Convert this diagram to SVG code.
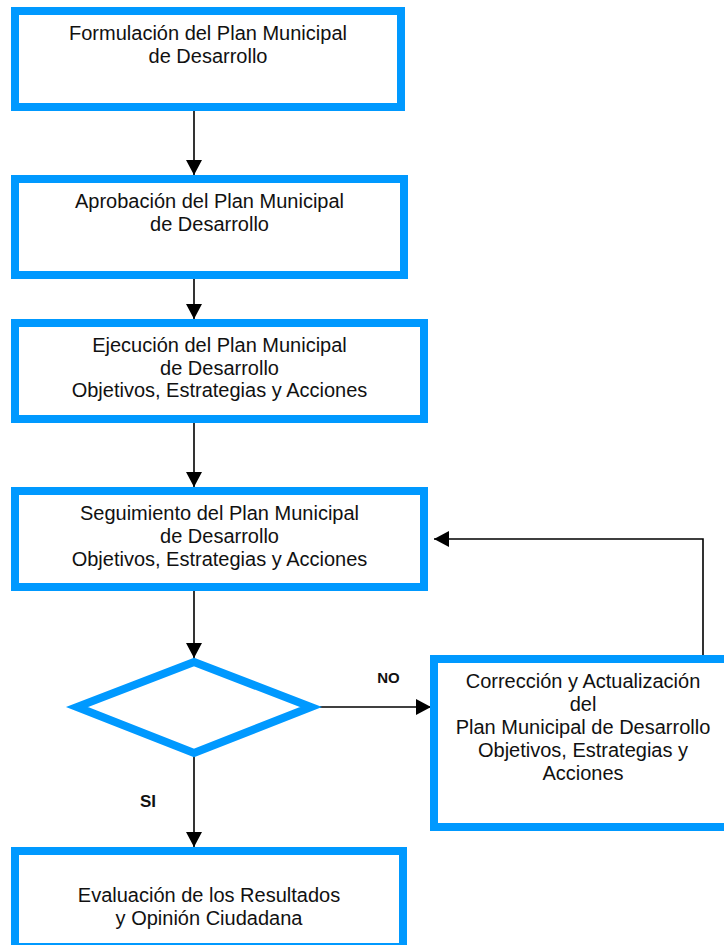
<svg xmlns="http://www.w3.org/2000/svg" width="724" height="945" viewBox="0 0 724 945">
<style>
.box{fill:#fff;stroke:#0099ff;stroke-width:8}
.t{font-family:"Liberation Sans",Arial,sans-serif;font-size:20px;fill:#111;text-anchor:middle}
.lbl{font-family:"Liberation Sans",Arial,sans-serif;font-weight:bold;fill:#111}
.con{fill:none;stroke:#000;stroke-width:1.6}
</style>
<defs>
<marker id="ah" markerUnits="userSpaceOnUse" markerWidth="16" markerHeight="16" viewBox="0 0 16 16" refX="15" refY="8" orient="auto">
<path d="M0,0 L15,8 L0,16 Z" fill="#000"/>
</marker>
</defs>
<rect width="724" height="945" fill="#fff"/>
<g id="connectors">
<line class="con" x1="194" y1="111" x2="194" y2="175" marker-end="url(#ah)"/>
<line class="con" x1="194" y1="279" x2="194" y2="319" marker-end="url(#ah)"/>
<line class="con" x1="194" y1="423" x2="194" y2="487" marker-end="url(#ah)"/>
<line class="con" x1="194" y1="591" x2="194" y2="658" marker-end="url(#ah)"/>
<line class="con" x1="194" y1="756" x2="194" y2="847" marker-end="url(#ah)"/>
<line class="con" x1="320" y1="707" x2="431" y2="707" marker-end="url(#ah)"/>
<polyline class="con" points="703,656 703,539 434,539" marker-end="url(#ah)"/>
<text class="lbl" x="388.5" y="683" font-size="15" text-anchor="middle">NO</text>
<text class="lbl" x="148" y="807" font-size="17" text-anchor="middle">SI</text>
</g>
<g id="n1">
<rect class="box" x="15" y="11" width="386" height="96"/>
<text class="t" x="208" y="40">Formulación del Plan Municipal</text>
<text class="t" x="208" y="63">de Desarrollo</text>
</g>
<g id="n2">
<rect class="box" x="15" y="179" width="389" height="96"/>
<text class="t" x="209.5" y="208">Aprobación del Plan Municipal</text>
<text class="t" x="209.5" y="231">de Desarrollo</text>
</g>
<g id="n3">
<rect class="box" x="15" y="323" width="409" height="96"/>
<text class="t" x="219.5" y="352">Ejecución del Plan Municipal</text>
<text class="t" x="219.5" y="375">de Desarrollo</text>
<text class="t" x="219.5" y="397">Objetivos, Estrategias y Acciones</text>
</g>
<g id="n4">
<rect class="box" x="15" y="491" width="409" height="96"/>
<text class="t" x="219.5" y="520">Seguimiento del Plan Municipal</text>
<text class="t" x="219.5" y="543">de Desarrollo</text>
<text class="t" x="219.5" y="566">Objetivos, Estrategias y Acciones</text>
</g>
<g id="decision">
<polygon class="box" points="194,662 311,707 194,753 77,707"/>
</g>
<g id="n5">
<rect class="box" x="434" y="659" width="302" height="168"/>
<text class="t" x="583" y="688">Corrección y Actualización</text>
<text class="t" x="583" y="711">del</text>
<text class="t" x="583" y="734">Plan Municipal de Desarrollo</text>
<text class="t" x="583" y="757">Objetivos, Estrategias y</text>
<text class="t" x="583" y="780">Acciones</text>
</g>
<g id="n6">
<rect class="box" x="15" y="851" width="388" height="96"/>
<text class="t" x="209" y="902">Evaluación de los Resultados</text>
<text class="t" x="209" y="925">y Opinión Ciudadana</text>
</g>
</svg>
